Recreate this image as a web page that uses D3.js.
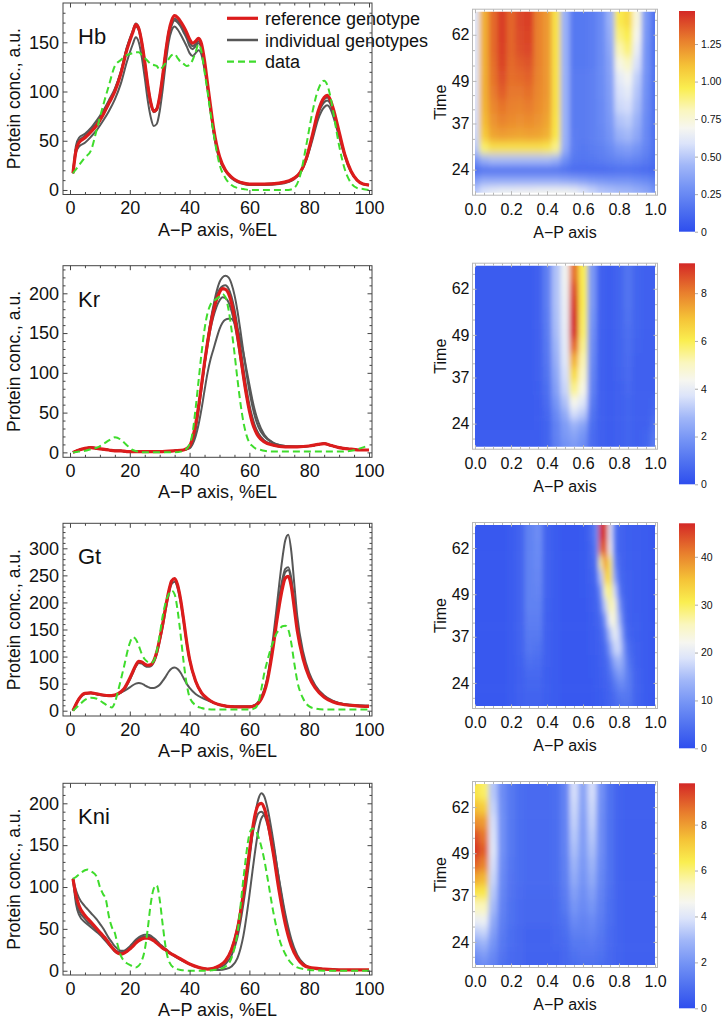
<!DOCTYPE html>
<html>
<head>
<meta charset="utf-8">
<style>
  body { margin: 0; background: white; }
  svg text { font-family: "Liberation Sans", Arial, sans-serif; fill: #111; }
</style>
</head>
<body>
<svg width="725" height="1025"></svg>

<script src="https://d3js.org/d3.v7.min.js"></script>
<script>
// ---- line plot data (A-P position in %EL, protein conc. a.u.) ----
const hbPos = [1,2,3,5,7,9,11,13,15,17, 19,21,22,23,24,25,26,27,28,29, 30,31,32,33,34,35,36,37,38,39,
  40,41,42,43,44,45,46,47,48,49, 50,52,54,56,58,60,65,70,73,75, 77,79,81,83,85,86,87,88,90,92, 94,96,98,100];
const hbRef = [17,40,48,53,59,66,76,88,100,118, 142,160,168,164,150,130,107,89,80,82, 95,116,140,160,172,177,175,171,166,160,
  153,149,151,154,148,131,108,85,63,46, 34,20,13,9,7,6,6,7,9,12, 18,32,55,80,94,96,92,83,59,35, 19,10,6,5];
const hbIndA = [17,38,44,48,54,61,70,80,92,108, 130,148,155,150,135,114,91,74,65,67, 80,102,128,150,162,166,163,158,152,146,
  139,136,139,142,137,122,102,80,58,42, 31,19,12,8,6,5,5,6,8,11, 17,30,50,72,84,86,83,75,54,33, 18,10,6,5];
const hbIndB = [17,45,53,57,63,71,80,91,103,120, 145,160,166,162,147,127,104,87,79,81, 94,113,137,156,167,172,170,166,160,154,
  146,143,146,149,143,126,105,83,60,44, 32,20,13,9,7,6,6,7,9,12, 18,31,53,77,89,91,88,79,57,35, 19,10,6,5];
const hbIndC = [17,42,50,55,61,68,78,90,102,120, 144,162,169,165,151,131,108,90,81,83, 96,117,141,161,170,174,172,168,163,157,
  150,146,148,151,145,128,106,84,62,45, 33,20,13,9,7,6,6,7,9,12, 18,32,54,78,92,94,90,81,58,35, 19,10,6,5];
const hbData = [17,21,25,33,40,62,85,106,126,132, 137,139,140,140,137,134,131,128,127,126, 122,125,129,133,137,138,134,130,128,126,
  127,132,140,148,140,120,100,78,58,40, 26,12,5,2,1,0,0,0,0,2, 15,45,78,102,111,107,96,80,45,20, 7,2,1,0];

const krPos = [1,3,5,7,9,11,13,15,17,19, 21,25,30,35,38,40,41,42,43,44, 45,46,47,48,49,50,51,52,53,54,
  55,56,57,58,59,60,61,62,63,65, 68,72,76,80,83,85,87,90,94,97, 100];
const krRef = [0,3,5,6,5,4,3,2,2,1, 1,1,1,2,3,8,18,35,58,85, 113,138,160,178,192,201,206,205,200,188,
  170,148,122,96,72,52,37,27,20,13, 9,7,7,8,10,11,9,6,4,3, 3];
const krIndA = [0,3,5,6,5,4,3,2,2,1, 1,1,1,2,3,6,12,28,52,80, 110,140,165,185,202,214,220,222,220,212,
  198,178,153,126,100,77,58,43,32,20, 12,8,7,8,10,11,9,6,4,3, 3];
const krIndB = [0,3,5,6,5,4,3,2,2,1, 1,1,1,2,3,7,14,32,57,85, 113,140,163,182,196,205,209,210,206,196,
  180,158,133,106,81,60,44,32,24,15, 10,7,7,8,10,11,9,6,4,3, 3];
const krIndC = [0,3,5,6,5,4,3,2,2,1, 1,1,1,2,3,8,15,34,58,84, 110,134,155,171,183,191,195,194,189,178,
  162,142,118,94,72,53,39,29,22,14, 9,7,7,8,10,11,9,6,4,3, 3];
const krIndD = [0,3,5,6,5,4,3,2,2,1, 1,1,1,2,3,5,10,20,35,55, 78,100,117,130,143,155,163,167,168,168,
  163,155,142,125,105,85,66,50,38,22, 12,8,7,8,10,11,9,6,4,3, 3];
const krData = [0,1,2,4,6,10,15,19,16,9, 3,0,0,0,2,10,25,55,90,125, 155,175,186,190,193,196,199,195,180,155,
  125,92,62,38,22,12,8,5,4,2, 1,1,1,1,1,1,1,1,2,5, 9];

const gtPos = [1,3,5,7,9,11,13,14,15,16, 18,20,21,22,23,24,25,26,27,28, 29,30,31,32,33,34,35,36,37,38,
  39,40,42,44,46,48,50,55,60,62, 63,64,65,66,67,68,69,70,71,72, 73,74,75,76,78,80,82,85,88,92, 96,100];
const gtRef = [0,22,32,33,31,29,28,28,29,31, 40,60,72,84,91,90,86,84,85,92, 108,132,160,192,220,240,244,232,205,168,
  128,95,55,33,22,15,11,7,7,10, 14,22,35,55,85,120,160,195,225,245, 248,230,190,148,95,62,42,25,16,11, 9,8];
const gtIndA = [0,22,32,33,31,29,28,28,29,31, 36,43,47,50,51,50,47,44,42,42, 44,48,55,63,72,78,80,77,70,60,
  50,42,31,24,19,15,11,8,8,11, 15,24,38,58,90,128,170,210,242,262, 265,245,200,155,100,66,45,27,17,12, 10,9];
const gtIndB = [0,21,31,32,30,28,27,27,28,30, 38,57,69,81,88,87,83,81,82,89, 104,128,155,186,214,234,238,226,200,164,
  125,93,54,32,21,15,11,7,7,11, 17,26,40,62,95,138,185,235,280,315, 325,295,235,175,108,70,47,28,18,12, 10,9];
const gtIndC = [0,22,32,33,31,29,28,28,29,31, 40,60,72,84,91,90,86,84,85,92, 108,132,160,192,220,240,244,232,205,168,
  128,95,55,33,22,15,11,7,7,10, 14,22,36,57,88,125,166,205,236,256, 260,240,197,152,97,64,43,26,17,11, 9,8];
const gtData = [0,10,20,24,22,15,8,6,15,35, 80,125,136,132,120,105,95,90,88,92, 110,140,175,200,215,222,215,185,140,90,
  50,25,10,5,3,2,2,2,2,5, 15,40,70,92,112,128,142,150,156,157, 150,125,88,55,22,8,4,2,2,2, 2,2];

const kniPos = [1,2,3,5,6,7,9,10,11,12, 13,14,15,16,17,18,19,20,21,22, 23,24,25,26,27,28,29,30,31,32,
  33,35,37,40,43,46,48,50,52,54, 56,58,60,61,62,63,64,65,66,68, 70,72,74,76,78,80,85,90,100];
const kniRef = [110,90,78,66,62,58,50,46,42,38, 33,28,24,21,20,21,23,26,29,33, 36,38,39,39,38,36,33,30,27,25,
  22,18,14,8,4,2,3,6,12,25, 50,92,142,168,188,198,200,194,180,140, 94,56,30,15,7,4,2,1,1];
const kniIndA = [110,96,87,77,73,69,61,56,51,45, 39,34,29,26,24,24,26,29,33,37, 40,42,43,43,42,39,36,32,29,26,
  23,18,14,8,4,2,2,4,8,18, 40,80,132,162,188,205,212,208,195,155, 106,64,34,17,8,4,2,1,1];
const kniIndB = [110,80,67,58,55,52,46,43,39,35, 31,27,23,21,20,21,23,26,30,33, 36,38,39,39,38,36,33,30,27,24,
  22,17,13,8,4,2,3,6,12,26, 52,93,140,162,178,188,190,186,175,140, 96,58,32,16,8,4,2,1,1];
const kniIndC = [110,85,72,62,58,55,48,45,41,37, 32,28,25,23,22,23,25,28,32,35, 38,40,41,41,40,37,34,31,28,25,
  22,18,14,8,4,2,1,1,2,5, 15,42,90,118,145,168,182,186,180,150, 108,68,38,19,9,4,2,1,1];
const kniData = [110,112,115,120,121,119,112,100,92,85, 65,52,45,30,18,12,9,7,5,4, 6,12,25,50,80,98,102,85,55,28,
  12,3,1,0,0,0,1,2,5,15, 45,110,163,170,168,160,148,132,112,70, 38,20,9,4,2,1,0,0,0];

const apTicks = [0, 20, 40, 60, 80, 100];
const hbTicks = [0, 50, 100, 150];
const krTicks = [0, 50, 100, 150, 200];
const gtTicks = [0, 50, 100, 150, 200, 250, 300];
const kniTicks = [0, 50, 100, 150, 200];

// ---- heat map data: rows = time (heatT), columns = A-P fraction ----
const heatT = [18, 21, 24, 27, 30, 34, 38, 42, 46, 50, 54, 58, 62, 66];
const timeTicks = [24, 37, 49, 62];
const heatTicks = [0, 0.2, 0.4, 0.6, 0.8, 1];
const heatX = [0,0.05,0.1,0.15,0.2,0.25,0.3,0.35,0.4,0.45,0.5,0.55,0.6,0.65,0.7,0.75,0.8,0.85,0.9,0.95,1];
const gtX = [0,0.05,0.1,0.15,0.2,0.25,0.3,0.35,0.4,0.45,0.5,0.55,0.6,0.65,0.675,0.7,0.725,0.75,0.775,0.8,0.825,0.85,0.9,0.95,1];

const hbHeat = [
  [0.50,0.60,0.64,0.66,0.66,0.67,0.67,0.68,0.68,0.68,0.68,0.66,0.60,0.55,0.50,0.48,0.46,0.45,0.42,0.38,0.30],
  [0.34,0.40,0.40,0.40,0.40,0.40,0.40,0.40,0.40,0.40,0.38,0.36,0.34,0.32,0.31,0.30,0.30,0.30,0.28,0.26,0.22],
  [0.12,0.15,0.15,0.15,0.15,0.15,0.15,0.15,0.15,0.15,0.14,0.12,0.12,0.12,0.12,0.13,0.14,0.14,0.13,0.12,0.10],
  [0.30,0.42,0.46,0.46,0.46,0.46,0.46,0.46,0.46,0.42,0.28,0.18,0.17,0.18,0.20,0.22,0.24,0.25,0.23,0.19,0.14],
  [0.50,0.92,1.00,1.00,1.00,1.00,1.00,1.00,0.98,0.88,0.40,0.20,0.18,0.20,0.22,0.26,0.32,0.34,0.30,0.23,0.15],
  [0.55,1.08,1.18,1.20,1.19,1.18,1.19,1.18,1.15,0.98,0.42,0.20,0.19,0.21,0.24,0.30,0.42,0.45,0.38,0.25,0.15],
  [0.57,1.12,1.22,1.26,1.24,1.23,1.24,1.22,1.18,0.99,0.42,0.19,0.19,0.21,0.25,0.32,0.48,0.51,0.42,0.26,0.15],
  [0.58,1.14,1.25,1.30,1.27,1.26,1.28,1.24,1.20,1.00,0.42,0.19,0.19,0.21,0.25,0.33,0.55,0.57,0.46,0.27,0.15],
  [0.59,1.15,1.28,1.35,1.29,1.29,1.31,1.25,1.21,1.00,0.42,0.19,0.19,0.21,0.26,0.34,0.58,0.62,0.49,0.28,0.15],
  [0.60,1.15,1.30,1.38,1.31,1.32,1.34,1.26,1.21,1.00,0.42,0.19,0.19,0.21,0.26,0.35,0.62,0.68,0.52,0.29,0.15],
  [0.60,1.15,1.31,1.41,1.32,1.35,1.37,1.27,1.21,1.00,0.42,0.18,0.18,0.20,0.26,0.36,0.72,0.79,0.58,0.30,0.15],
  [0.60,1.15,1.32,1.42,1.33,1.38,1.40,1.27,1.21,1.00,0.42,0.18,0.18,0.20,0.26,0.38,0.82,0.90,0.64,0.30,0.15],
  [0.60,1.15,1.32,1.43,1.33,1.39,1.41,1.27,1.21,1.00,0.42,0.18,0.18,0.20,0.26,0.40,0.90,0.96,0.70,0.31,0.15],
  [0.60,1.15,1.32,1.43,1.33,1.40,1.42,1.27,1.21,1.00,0.42,0.18,0.18,0.20,0.26,0.42,0.97,1.02,0.74,0.32,0.15]
];
const krHeat = [
  [0.4,0.4,0.4,0.4,0.4,0.4,0.4,0.4,0.6,1.3,1.8,2.0,1.7,0.8,0.5,0.4,0.5,0.6,0.5,0.6,1.2],
  [0.4,0.4,0.4,0.4,0.4,0.4,0.4,0.4,0.6,1.4,2.0,2.3,1.9,0.8,0.5,0.4,0.5,0.6,0.5,0.6,1.1],
  [0.35,0.35,0.35,0.35,0.35,0.35,0.35,0.4,0.6,1.4,2.1,2.7,2.3,0.9,0.5,0.4,0.5,0.6,0.5,0.5,0.9],
  [0.35,0.35,0.35,0.35,0.35,0.35,0.35,0.4,0.7,1.6,2.5,3.6,3.2,1.0,0.5,0.4,0.5,0.6,0.5,0.5,0.7],
  [0.35,0.35,0.35,0.35,0.35,0.35,0.35,0.4,0.8,1.9,3.0,4.4,3.8,1.2,0.5,0.4,0.5,0.6,0.5,0.5,0.6],
  [0.35,0.35,0.35,0.35,0.35,0.35,0.35,0.45,0.9,2.2,3.4,5.5,4.5,1.4,0.5,0.4,0.5,0.7,0.5,0.5,0.5],
  [0.35,0.35,0.35,0.35,0.35,0.35,0.35,0.5,1.0,2.4,3.6,6.4,4.9,1.5,0.5,0.4,0.55,0.75,0.5,0.5,0.5],
  [0.35,0.35,0.35,0.35,0.35,0.35,0.35,0.5,1.1,2.6,3.8,7.2,5.2,1.6,0.5,0.4,0.6,0.8,0.5,0.5,0.5],
  [0.35,0.35,0.35,0.35,0.35,0.35,0.35,0.5,1.15,2.75,3.9,8.3,5.5,1.7,0.5,0.4,0.6,0.85,0.55,0.5,0.5],
  [0.35,0.35,0.35,0.35,0.35,0.35,0.35,0.5,1.2,2.9,4.0,9.2,5.8,1.8,0.5,0.4,0.6,0.9,0.6,0.5,0.5],
  [0.35,0.35,0.35,0.35,0.35,0.35,0.35,0.5,1.25,2.95,4.05,9.25,5.9,1.9,0.5,0.4,0.6,0.95,0.6,0.5,0.5],
  [0.35,0.35,0.35,0.35,0.35,0.35,0.35,0.5,1.3,3.0,4.1,9.0,6.0,2.0,0.5,0.4,0.6,1.0,0.6,0.5,0.5],
  [0.35,0.35,0.35,0.35,0.35,0.35,0.35,0.5,1.3,3.0,4.15,8.7,6.0,2.0,0.5,0.4,0.6,1.0,0.6,0.5,0.5],
  [0.35,0.35,0.35,0.35,0.35,0.35,0.35,0.5,1.3,3.0,4.2,8.2,6.0,2.0,0.5,0.4,0.6,1.0,0.6,0.5,0.5]
];
const gtHeat = [
  [1.5,1.5,1.5,1.5,1.8,2.5,3.0,3.0,2.2,1.8,1.5,1.5,1.5,1.5,1.6,1.8,2.2,2.8,3.5,4.5,5.0,5.0,3.0,1.8,1.5],
  [1.5,1.5,1.5,1.5,1.8,2.4,3.0,3.0,2.2,1.8,1.5,1.5,1.5,1.5,1.6,1.8,2.3,3.0,4.0,5.5,6.0,5.5,3.0,1.8,1.5],
  [1.5,1.5,1.5,1.5,1.8,2.4,3.2,3.2,2.2,1.8,1.5,1.5,1.5,1.5,1.7,2.0,2.5,3.5,5.5,8.0,8.0,6.0,3.0,1.8,1.5],
  [1.5,1.5,1.5,1.5,1.8,2.5,3.6,3.6,2.3,1.8,1.5,1.5,1.5,1.6,1.8,2.2,3.0,4.5,8.0,11.0,10.0,6.0,2.8,1.8,1.5],
  [1.5,1.5,1.5,1.5,1.8,2.7,4.5,4.2,2.4,1.8,1.5,1.5,1.5,1.6,1.9,2.4,3.0,6.0,12.0,14.0,11.0,5.0,2.6,1.8,1.5],
  [1.5,1.5,1.5,1.5,1.8,2.8,5.5,5.0,2.5,1.8,1.5,1.5,1.5,1.7,2.0,2.6,4.0,10.0,17.0,18.0,10.0,4.0,2.4,1.8,1.5],
  [1.5,1.5,1.5,1.5,1.8,2.8,6.0,6.0,2.6,1.8,1.5,1.5,1.5,1.8,2.2,3.0,6.0,15.0,21.0,17.0,7.0,3.0,2.2,1.8,1.5],
  [1.5,1.5,1.5,1.5,1.8,2.8,6.5,6.5,2.6,1.8,1.5,1.5,1.5,1.9,2.5,4.0,10.0,22.0,24.0,14.0,5.0,2.6,2.1,1.8,1.5],
  [1.5,1.5,1.5,1.5,1.8,2.8,7.0,7.0,2.7,1.8,1.5,1.5,1.5,2.0,2.8,6.0,17.0,27.0,24.0,10.0,4.0,2.5,2.0,1.8,1.5],
  [1.5,1.5,1.5,1.5,1.8,2.8,7.0,7.5,2.8,1.8,1.5,1.5,1.6,2.2,3.0,9.0,26.0,30.0,18.0,6.0,3.0,2.4,2.0,1.8,1.5],
  [1.5,1.5,1.5,1.5,1.8,2.8,7.0,7.8,2.9,1.8,1.5,1.5,1.6,2.5,4.0,16.0,34.0,32.0,12.0,4.0,2.8,2.4,2.0,1.8,1.5],
  [1.5,1.5,1.5,1.5,1.8,2.8,7.0,8.0,3.0,1.8,1.5,1.5,1.6,2.8,5.0,28.0,40.0,30.0,8.0,3.5,2.6,2.3,2.0,1.8,1.5],
  [1.5,1.5,1.5,1.5,1.8,2.8,7.0,8.3,3.0,1.8,1.5,1.5,1.6,3.0,7.0,42.0,45.0,22.0,6.0,3.0,2.5,2.3,2.0,1.8,1.5],
  [1.5,1.5,1.5,1.5,1.8,2.8,7.0,8.5,3.0,1.8,1.5,1.5,1.6,3.5,8.0,46.0,47.0,20.0,6.0,3.0,2.5,2.2,2.0,1.8,1.5]
];
const kniHeat = [
  [1.5,1.8,1.5,1.0,0.8,0.7,0.6,0.6,0.6,0.6,0.7,0.9,1.0,1.0,0.9,0.7,0.6,0.5,0.5,0.5,0.5],
  [2.0,2.3,1.7,1.1,0.8,0.7,0.6,0.6,0.6,0.6,0.7,1.0,1.1,1.1,1.0,0.7,0.6,0.5,0.5,0.5,0.5],
  [2.6,2.9,2.0,1.2,0.9,0.7,0.6,0.6,0.6,0.7,0.8,1.2,1.2,1.3,1.1,0.8,0.6,0.5,0.5,0.5,0.5],
  [3.4,3.6,2.3,1.3,0.9,0.7,0.6,0.6,0.6,0.7,0.9,1.4,1.4,1.5,1.2,0.8,0.6,0.5,0.5,0.5,0.5],
  [4.3,4.4,2.6,1.4,1.0,0.8,0.7,0.7,0.7,0.8,1.0,1.7,1.5,1.7,1.3,0.9,0.6,0.5,0.5,0.5,0.5],
  [5.4,5.4,3.0,1.5,1.0,0.8,0.7,0.7,0.7,0.8,1.2,2.0,1.7,2.0,1.4,0.9,0.6,0.5,0.5,0.5,0.5],
  [6.6,6.5,3.3,1.6,1.05,0.85,0.75,0.75,0.75,0.85,1.3,2.3,1.85,2.3,1.5,0.95,0.6,0.5,0.5,0.5,0.5],
  [7.8,7.5,3.6,1.7,1.1,0.9,0.8,0.8,0.8,0.9,1.4,2.6,2.0,2.6,1.6,1.0,0.6,0.5,0.5,0.5,0.5],
  [8.9,8.4,3.8,1.8,1.15,0.9,0.8,0.8,0.8,0.9,1.45,2.85,2.1,2.85,1.7,1.0,0.6,0.5,0.5,0.5,0.5],
  [9.6,9.0,4.0,1.9,1.2,0.9,0.8,0.8,0.8,0.9,1.5,3.1,2.2,3.1,1.8,1.0,0.6,0.5,0.5,0.5,0.5],
  [9.2,8.6,3.9,1.9,1.2,0.9,0.8,0.8,0.8,0.9,1.5,3.3,2.25,3.3,1.8,1.0,0.6,0.5,0.5,0.5,0.5],
  [8.2,8.0,3.8,1.9,1.2,0.9,0.8,0.8,0.8,0.9,1.5,3.5,2.3,3.5,1.8,1.0,0.6,0.5,0.5,0.5,0.5],
  [7.4,7.1,3.55,1.85,1.2,0.9,0.8,0.8,0.8,0.9,1.5,3.65,2.35,3.65,1.85,1.0,0.6,0.5,0.5,0.5,0.5],
  [6.6,6.2,3.3,1.8,1.2,0.9,0.8,0.8,0.8,0.9,1.5,3.8,2.4,3.8,1.9,1.0,0.6,0.5,0.5,0.5,0.5]
];

const hbBar = [0, 0.25, 0.5, 0.75, 1.0, 1.25];
const krBar = [0, 2, 4, 6, 8];
const gtBar = [0, 10, 20, 30, 40];
const kniBar = [0, 2, 4, 6, 8];

// temperature-map style colour ramp (fraction of max)
const tempStops = [0, 0.1, 0.2, 0.3, 0.4, 0.47, 0.55, 0.65, 0.75, 0.87, 1];
const tempColors = ["rgb(46,78,238)", "rgb(79,113,240)", "rgb(116,147,245)", "rgb(160,182,248)",
  "rgb(220,228,250)", "rgb(246,246,240)", "rgb(250,246,190)", "rgb(250,238,80)",
  "rgb(245,195,55)", "rgb(232,125,45)", "rgb(212,40,38)"];

const refColor = "#dc1c1c", indColor = "#575757", dataColor = "#3fdc2c";
const frameColor = "#444", heatFrame = "#b8b8b8";

const panels = [
  { name: "Hb", pos: hbPos, ref: hbRef, ind: [hbIndA, hbIndB, hbIndC], data: hbData, ticks: hbTicks,
    yDomain: [-4.6, 189.9], top: 3, bottom: 194.5,
    heat: hbHeat, cols: heatX, heatTop: 11.7, bar: hbBar, barMax: 1.47, barTop: 11, barBottom: 231.7 },
  { name: "Kr", pos: krPos, ref: krRef, ind: [krIndA, krIndB, krIndC, krIndD], data: krData, ticks: krTicks,
    yDomain: [-6.2, 234.7], top: 265.7, bottom: 457.3,
    heat: krHeat, cols: heatX, heatTop: 265.7, bar: krBar, barMax: 9.25, barTop: 263.3, barBottom: 484.3 },
  { name: "Gt", pos: gtPos, ref: gtRef, ind: [gtIndA, gtIndB, gtIndC], data: gtData, ticks: gtTicks,
    yDomain: [-9.8, 346.2], top: 523.3, bottom: 716,
    heat: gtHeat, cols: gtX, heatTop: 525, bar: gtBar, barMax: 47, barTop: 523.3, barBottom: 748.3 },
  { name: "Kni", pos: kniPos, ref: kniRef, ind: [kniIndA, kniIndB, kniIndC], data: kniData, ticks: kniTicks,
    yDomain: [-5.1, 223.9], top: 783.3, bottom: 975,
    heat: kniHeat, cols: heatX, heatTop: 784, bar: kniBar, barMax: 9.8, barTop: 783.3, barBottom: 1008.3 }
];

const svg = d3.select("svg");
const defs = svg.append("defs");

const grad = defs.append("linearGradient").attr("id", "tempGrad")
  .attr("x1", 0).attr("y1", 1).attr("x2", 0).attr("y2", 0);
tempStops.forEach((s, i) => grad.append("stop").attr("offset", s).attr("stop-color", tempColors[i]));

defs.append("filter").attr("id", "soft")
  .attr("x", "-10%").attr("y", "-10%").attr("width", "120%").attr("height", "120%")
  .append("feGaussianBlur").attr("stdDeviation", "2.5 4");

function styleAxis(g, color, size) {
  g.attr("font-family", null).attr("font-size", size);
  g.select(".domain").remove();
  g.selectAll(".tick line").attr("stroke", color);
  g.selectAll(".tick text").attr("fill", "#111");
}

const xLine = d3.scaleLinear().domain([-2.34, 101]).range([63, 372]);
const xHeat = d3.scaleLinear().domain([0, 1]).range([475, 655]);

panels.forEach((p, i) => {
  // ---------- line plot ----------
  const y = d3.scaleLinear().domain(p.yDomain).range([p.bottom, p.top]);
  const g = svg.append("g");

  defs.append("clipPath").attr("id", "lc" + i).append("rect")
    .attr("x", 63).attr("y", p.top).attr("width", 309).attr("height", p.bottom - p.top);

  const line = d3.line().x((d, k) => xLine(p.pos[k])).y(d => y(d)).curve(d3.curveMonotoneX);
  const lines = g.append("g").attr("clip-path", `url(#lc${i})`).attr("fill", "none");
  p.ind.forEach(s => lines.append("path").attr("d", line(s))
    .attr("stroke", indColor).attr("stroke-width", 2));
  lines.append("path").attr("d", line(p.ref)).attr("stroke", refColor).attr("stroke-width", 3.2);
  lines.append("path").attr("d", line(p.data)).attr("stroke", dataColor)
    .attr("stroke-width", 2).attr("stroke-dasharray", "7,4");

  const xMinor = d3.range(0, 101, 5).filter(v => v % 20 !== 0);
  const yMinor = d3.range(0, p.yDomain[1], 10).filter(v => v % 50 !== 0);

  g.append("g").attr("transform", `translate(0,${p.bottom})`)
    .call(d3.axisBottom(xLine).tickValues(apTicks).tickSize(-4.5).tickPadding(7))
    .call(a => styleAxis(a, frameColor, 18));
  g.append("g").attr("transform", `translate(0,${p.bottom})`)
    .call(d3.axisBottom(xLine).tickValues(xMinor).tickSize(-2.5).tickFormat(""))
    .call(a => styleAxis(a, frameColor, 18));
  g.append("g").attr("transform", `translate(0,${p.top})`)
    .call(d3.axisTop(xLine).tickValues(apTicks).tickSize(-4.5).tickFormat(""))
    .call(a => styleAxis(a, frameColor, 18));
  g.append("g").attr("transform", `translate(0,${p.top})`)
    .call(d3.axisTop(xLine).tickValues(xMinor).tickSize(-2.5).tickFormat(""))
    .call(a => styleAxis(a, frameColor, 18));
  g.append("g").attr("transform", "translate(63,0)")
    .call(d3.axisLeft(y).tickValues(p.ticks).tickSize(-4.5).tickPadding(4))
    .call(a => styleAxis(a, frameColor, 18));
  g.append("g").attr("transform", "translate(63,0)")
    .call(d3.axisLeft(y).tickValues(yMinor).tickSize(-2.5).tickFormat(""))
    .call(a => styleAxis(a, frameColor, 18));
  g.append("g").attr("transform", "translate(372,0)")
    .call(d3.axisRight(y).tickValues(p.ticks).tickSize(-4.5).tickFormat(""))
    .call(a => styleAxis(a, frameColor, 18));
  g.append("g").attr("transform", "translate(372,0)")
    .call(d3.axisRight(y).tickValues(yMinor).tickSize(-2.5).tickFormat(""))
    .call(a => styleAxis(a, frameColor, 18));

  g.append("rect").attr("x", 63).attr("y", p.top).attr("width", 309).attr("height", p.bottom - p.top)
    .attr("fill", "none").attr("stroke", frameColor).attr("stroke-width", 1);

  g.append("text").attr("x", 78).attr("y", p.top + 41).attr("font-size", 22).text(p.name);
  g.append("text").attr("x", 217.5).attr("y", p.bottom + 41).attr("text-anchor", "middle")
    .attr("font-size", 18).text("A\u2212P axis, %EL");
  g.append("text").attr("transform", "rotate(-90)")
    .attr("x", -(p.top + p.bottom) / 2).attr("y", 20).attr("text-anchor", "middle")
    .attr("font-size", 17.5).text("Protein conc., a.u.");

  // ---------- heat map ----------
  const hTop = p.heatTop, hBottom = p.heatTop + 181;
  const t = d3.scaleLinear().domain([17.5, 68.5]).range([hBottom, hTop]);
  const color = d3.scaleLinear().domain(tempStops.map(s => s * p.barMax)).range(tempColors).clamp(true);

  defs.append("clipPath").attr("id", "hc" + i).append("rect")
    .attr("x", xHeat(0)).attr("y", hTop).attr("width", xHeat(1) - xHeat(0)).attr("height", hBottom - hTop);

  const cols = p.cols, nx = cols.length, nt = heatT.length;
  const colEdge = j => j <= 0 ? xHeat(0) - 16 : j >= nx ? xHeat(1) + 16 : xHeat((cols[j - 1] + cols[j]) / 2);
  const rowEdge = r => r <= 0 ? t(17.5) + 16 : r >= nt ? t(68.5) - 16 : t((heatT[r - 1] + heatT[r]) / 2);

  const cells = [];
  p.heat.forEach((row, r) => row.forEach((v, j) => cells.push({ r, j, v })));

  const hg = svg.append("g").attr("clip-path", `url(#hc${i})`)
    .append("g").attr("filter", "url(#soft)");
  hg.selectAll("rect").data(cells).join("rect")
    .attr("x", d => colEdge(d.j))
    .attr("width", d => colEdge(d.j + 1) - colEdge(d.j) + 0.6)
    .attr("y", d => rowEdge(d.r + 1))
    .attr("height", d => rowEdge(d.r) - rowEdge(d.r + 1) + 0.6)
    .attr("fill", d => color(d.v));

  const hf = svg.append("g");
  const fx0 = xHeat(0) - 2.5, fx1 = xHeat(1) + 2.5, fy0 = hTop - 2.5, fy1 = hBottom + 2.5;
  const hxMinor = d3.range(0, 21).map(k => k * 0.05).filter(v => Math.abs(v * 5 - Math.round(v * 5)) > 1e-6);
  const tMinor = [];
  for (let k = 0; k < timeTicks.length - 1; k++) {
    const a = timeTicks[k], b = timeTicks[k + 1];
    tMinor.push(a + (b - a) / 3, a + 2 * (b - a) / 3);
  }
  tMinor.push(timeTicks[0] - 4.2, timeTicks[3] + 4.2);

  hf.append("g").attr("transform", `translate(0,${fy1})`)
    .call(d3.axisBottom(xHeat).tickValues(heatTicks).tickSize(-4).tickPadding(8).tickFormat(d3.format(".1f")))
    .call(a => styleAxis(a, heatFrame, 16));
  hf.append("g").attr("transform", `translate(0,${fy1})`)
    .call(d3.axisBottom(xHeat).tickValues(hxMinor).tickSize(-2.5).tickFormat(""))
    .call(a => styleAxis(a, heatFrame, 16));
  hf.append("g").attr("transform", `translate(0,${fy0})`)
    .call(d3.axisTop(xHeat).tickValues(heatTicks).tickSize(-4).tickFormat(""))
    .call(a => styleAxis(a, heatFrame, 16));
  hf.append("g").attr("transform", `translate(0,${fy0})`)
    .call(d3.axisTop(xHeat).tickValues(hxMinor).tickSize(-2.5).tickFormat(""))
    .call(a => styleAxis(a, heatFrame, 16));
  hf.append("g").attr("transform", `translate(${fx0},0)`)
    .call(d3.axisLeft(t).tickValues(timeTicks).tickSize(-4).tickPadding(3))
    .call(a => styleAxis(a, heatFrame, 16));
  hf.append("g").attr("transform", `translate(${fx0},0)`)
    .call(d3.axisLeft(t).tickValues(tMinor).tickSize(-2.5).tickFormat(""))
    .call(a => styleAxis(a, heatFrame, 16));
  hf.append("g").attr("transform", `translate(${fx1},0)`)
    .call(d3.axisRight(t).tickValues(timeTicks).tickSize(-4).tickFormat(""))
    .call(a => styleAxis(a, heatFrame, 16));
  hf.append("g").attr("transform", `translate(${fx1},0)`)
    .call(d3.axisRight(t).tickValues(tMinor).tickSize(-2.5).tickFormat(""))
    .call(a => styleAxis(a, heatFrame, 16));
  hf.append("rect").attr("x", fx0).attr("y", fy0).attr("width", fx1 - fx0).attr("height", fy1 - fy0)
    .attr("fill", "none").attr("stroke", heatFrame);

  hf.append("text").attr("x", (xHeat(0) + xHeat(1)) / 2).attr("y", hBottom + 45)
    .attr("text-anchor", "middle").attr("font-size", 16).text("A\u2212P axis");
  hf.append("text").attr("transform", "rotate(-90)")
    .attr("x", -(hTop + hBottom) / 2).attr("y", 446).attr("text-anchor", "middle")
    .attr("font-size", 16).text("Time");

  // ---------- colour bar ----------
  const by = d3.scaleLinear().domain([0, p.barMax]).range([p.barBottom, p.barTop]);
  svg.append("rect").attr("x", 679).attr("y", p.barTop).attr("width", 16)
    .attr("height", p.barBottom - p.barTop).attr("fill", "url(#tempGrad)");
  const fmt = d => d === 0 ? "0" : (p.barMax < 2 ? d3.format(".2f")(d) : String(d));
  svg.append("g").attr("transform", "translate(695,0)")
    .call(d3.axisRight(by).tickValues(p.bar).tickSize(3).tickPadding(3).tickFormat(fmt))
    .call(a => {
      a.attr("font-family", null).attr("font-size", 10.5);
      a.select(".domain").remove();
      a.selectAll(".tick line").attr("stroke", "#aaa");
      a.selectAll(".tick text").attr("fill", "#888");
    });
});

// ---------- legend (top panel) ----------
const legend = [
  { label: "reference genotype", color: refColor, width: 3.2, dash: null },
  { label: "individual genotypes", color: indColor, width: 2.5, dash: null },
  { label: "data", color: dataColor, width: 2.2, dash: "7,4" }
];
const lg = svg.append("g");
legend.forEach((d, k) => {
  const yy = 18.3 + k * 21.7;
  lg.append("line").attr("x1", 227).attr("x2", 258).attr("y1", yy).attr("y2", yy)
    .attr("stroke", d.color).attr("stroke-width", d.width).attr("stroke-dasharray", d.dash);
  lg.append("text").attr("x", 265).attr("y", yy + 6.5).attr("font-size", 18).text(d.label);
});
</script>
</body>
</html>
